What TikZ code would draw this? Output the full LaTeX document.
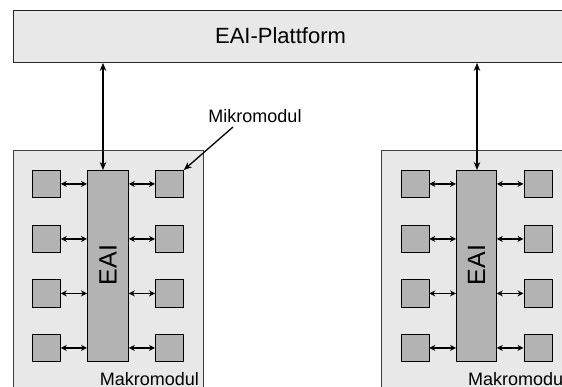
\documentclass[tikz,border=0pt]{standalone}
\usepackage{fontspec}
\setmainfont{Liberation Sans}
\usetikzlibrary{arrows.meta}
\definecolor{lightbg}{HTML}{E8E8E8}
\definecolor{midbg}{HTML}{B3B3B3}
\begin{document}
\begin{tikzpicture}[x=1pt,y=-1pt,
  platbox/.style={draw=black!85, line width=0.9pt, fill=lightbg},
  makrobox/.style={draw=black!75, line width=0.7pt, fill=lightbg},
  eaibox/.style={draw=black, line width=0.8pt, fill=midbg},
  mikro/.style={draw=black, line width=0.8pt, fill=midbg, minimum width=28pt, minimum height=27pt, inner sep=0pt, anchor=north west},
  link/.style={line width=1.4pt, {Stealth[length=6pt,width=6pt]}-{Stealth[length=6pt,width=6pt]}},
  bigarrow/.style={line width=1.6pt, {Stealth[length=8pt,width=6.5pt]}-{Stealth[length=8pt,width=6.5pt]}},
  txt/.style={inner sep=0pt, font=\fontsize{18}{20}\selectfont}
]
\useasboundingbox (0,0) rectangle (562,387);
\clip (0,0) rectangle (562,387);
\fill[white] (0,0) rectangle (562,387);

% platform
\node[platbox, anchor=north west, minimum width=570pt, minimum height=51.5pt, inner sep=0pt] (plat) at (12.5,10.5) {};
\node[inner sep=0pt, font=\fontsize{22}{24}\selectfont] (plattext) at (280.5,36) {EAI-Plattform};

% macro modules
\foreach \n/\x in {L/12.5, R/381} {
  \node[makrobox, anchor=north west, minimum width=190pt, minimum height=260pt, inner sep=0pt] (makro\n) at (\x,150) {};
}
\node[txt, anchor=base east] (makroLtext) at (199,385.5) {Makromodul};
\node[txt, anchor=base west] (makroRtext) at (468,385.5) {Makromodul};

% EAI boxes
\node[eaibox, anchor=north west, minimum width=41pt, minimum height=191pt, inner sep=0pt] (eaiL) at (87,170) {};
\node[eaibox, anchor=north west, minimum width=40pt, minimum height=191pt, inner sep=0pt] (eaiR) at (456,170) {};
\node[rotate=90, inner sep=0pt, font=\fontsize{25}{27}\selectfont] (eaiLtext) at (108,265) {EAI};
\node[rotate=90, inner sep=0pt, font=\fontsize{25}{27}\selectfont] (eaiRtext) at (476.5,265) {EAI};

% micro modules
\foreach \i/\y in {1/170, 2/225, 3/279.5, 4/334} {
  \node[mikro] (LL\i) at (32,\y) {};
  \node[mikro] (LR\i) at (155,\y) {};
  \node[mikro] (RL\i) at (400.5,\y) {};
  \node[mikro] (RR\i) at (523.5,\y) {};
  \draw[link] (LL\i.east) -- (LL\i.east -| eaiL.west);
  \draw[link] (LR\i.west) -- (LR\i.west -| eaiL.east);
  \draw[link] (RL\i.east) -- (RL\i.east -| eaiR.west);
  \draw[link] (RR\i.west) -- (RR\i.west -| eaiR.east);
}

% platform links
\coordinate (aL) at (103,0);
\coordinate (aR) at (477,0);
\draw[bigarrow] (aL |- plat.south) -- (aL |- eaiL.north);
\draw[bigarrow] (aR |- plat.south) -- (aR |- eaiR.north);

% Mikromodul label
\node[txt, anchor=base] (mikrotext) at (255,123) {Mikromodul};
\coordinate (mstart) at (233,127);
\draw[line width=1.3pt, -{Stealth[length=8pt,width=6.5pt]}] (mstart) -- (LR1.north east);
\end{tikzpicture}
\end{document}
